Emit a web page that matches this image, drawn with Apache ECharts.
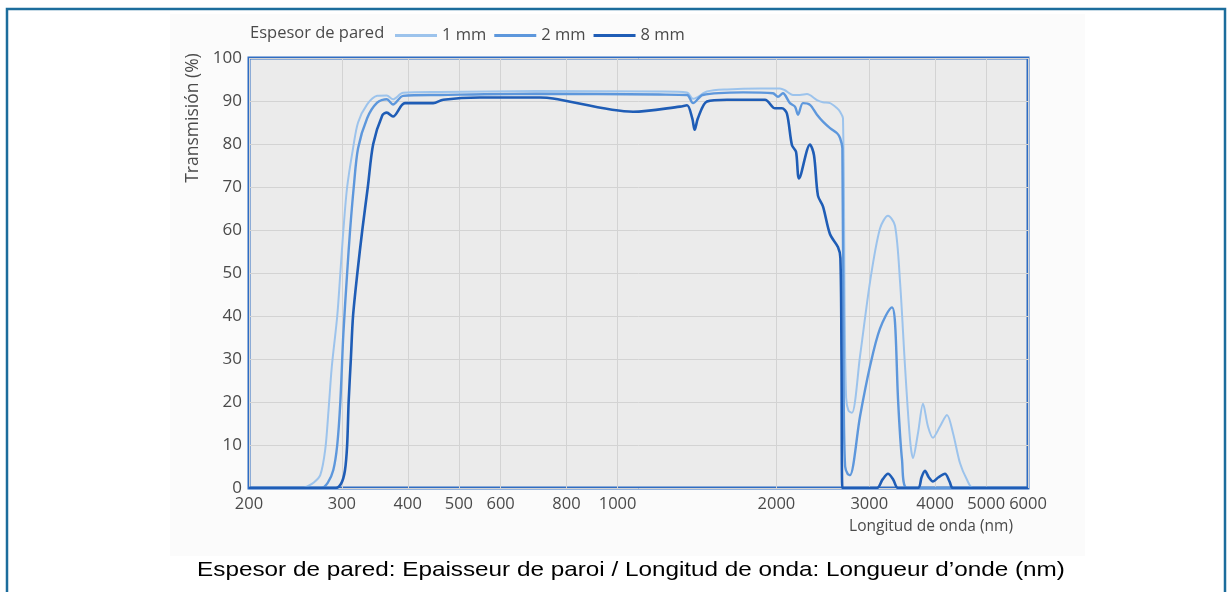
<!DOCTYPE html>
<html>
<head>
<meta charset="utf-8">
<script src="https://cdn.jsdelivr.net/npm/echarts@6/dist/echarts.min.js"></script>
<style>
  html, body { margin: 0; padding: 0; background: #ffffff; }
  #chart { width: 1232px; height: 592px; }
</style>
</head>
<body>
<div id="chart"></div>
<script>
// Transmission spectra of glass for three wall thicknesses (wavelength in nm, transmission in %)
const wl1mm = [200, 253, 258, 265, 273, 279, 283, 287, 294, 298, 302, 307, 315, 322, 335, 350, 365, 375, 392, 460, 700, 1200, 1354, 1390, 1477, 1612, 1862, 2031, 2076, 2150, 2217, 2286, 2388, 2451, 2528, 2607, 2641, 2675, 2695, 2712, 2740, 2782, 2882, 3010, 3143, 3256, 3357, 3432, 3507, 3585, 3631, 3712, 3794, 3877, 3962, 4085, 4212, 4324, 4458, 4597, 4719, 6000];
const t1mm  = [0, 0, 0.4, 1.2, 3, 9, 18, 28, 40, 50, 60, 70, 79, 85, 89.2, 91.2, 91.3, 90.4, 91.9, 92.1, 92.3, 92.2, 92.0, 90.5, 92.2, 92.7, 92.9, 92.9, 92.5, 91.4, 91.4, 91.6, 90.2, 89.7, 89.5, 88.3, 87.5, 86, 40, 21, 18, 17.5, 30.7, 47.9, 60.3, 63.3, 61, 47.9, 28.3, 11.2, 7, 12.8, 19.6, 14.3, 11.7, 14.3, 17, 12.8, 5.8, 1.9, 0, 0];

const wl2mm = [200, 274, 282, 289, 294, 298, 302, 307, 311, 316, 322, 335, 350, 365, 375, 392, 460, 700, 1200, 1354, 1390, 1450, 1729, 1970, 2014, 2058, 2122, 2169, 2198, 2246, 2316, 2388, 2451, 2528, 2607, 2641, 2668, 2684, 2700, 2730, 2758, 2882, 3010, 3143, 3313, 3357, 3402, 3462, 3538, 6000];
const t2mm  = [0, 0, 1.2, 4.2, 10, 20, 36, 50, 60, 70, 79, 86, 89.6, 90.4, 89.2, 91.2, 91.4, 91.7, 91.5, 91.4, 89.5, 91.4, 92.0, 91.8, 91.0, 91.8, 89.5, 88.7, 86.8, 89.5, 89.1, 86.8, 85.2, 83.7, 82.5, 81.4, 79, 20, 5, 3.3, 3, 16.7, 28.3, 37, 42, 38.5, 20.6, 6.5, 0, 0];

const wl8mm = [200, 292, 299, 304, 307, 309, 312, 315, 321, 328, 336, 344, 358, 365, 375, 395, 447, 467, 548, 713, 754, 1070, 1313, 1354, 1385, 1400, 1420, 1477, 1612, 1903, 1988, 2049, 2094, 2141, 2179, 2208, 2316, 2357, 2398, 2451, 2528, 2618, 2645, 2658, 2668, 3102, 3180, 3256, 3330, 3402, 3712, 3770, 3826, 3890, 3962, 4060, 4176, 4260, 4324, 6000];
const t8mm  = [0, 0, 1, 4, 10, 20, 30, 40, 50, 60, 70, 80, 86.7, 87.3, 86.4, 89.5, 89.5, 90.3, 90.8, 90.8, 90.6, 87.5, 88.7, 89.0, 86, 83.3, 86, 89.9, 90.3, 90.3, 88.3, 88.3, 87.1, 79.7, 78.2, 72.0, 79.9, 77.4, 68, 65.5, 59, 56, 53.5, 30, 0, 0, 2, 3.3, 2, 0, 0, 2.5, 4, 2.5, 1.5, 2.5, 3.3, 1.5, 0, 0];

const seriesNames = ['1 mm', '2 mm', '8 mm'];
const seriesColors = ['#9cc3ec', '#5d97dc', '#1f5db6'];
const xTicks = [200, 300, 400, 500, 600, 800, 1000, 2000, 3000, 4000, 5000, 6000];
const yMin = 0, yMax = 100, yStep = 10;

const legendTitle = 'Espesor de pared';
const yTitle = 'Transmisión (%)';
const xTitle = 'Longitud de onda (nm)';
const caption = 'Espesor de pared: Epaisseur de paroi / Longitud de onda: Longueur d\u2019onde (nm)';

const zip = (xs, ys) => xs.map((x, i) => [x, ys[i]]);
const lines = [zip(wl1mm, t1mm), zip(wl2mm, t2mm), zip(wl8mm, t8mm)];
const widths = [2, 2.4, 2.6];

const labelFont = 'Open Sans';
const labelColor = '#4a4a4a';

const chart = echarts.init(document.getElementById('chart'), null, { renderer: 'canvas' });

chart.setOption({
  animation: false,
  backgroundColor: '#ffffff',
  textStyle: { fontFamily: labelFont },
  grid: {
    left: 249, right: 204, top: 58, bottom: 104,
    show: true,
    backgroundColor: '#ebebeb',
    borderColor: '#2f6cc2',
    borderWidth: 3
  },
  legend: {
    data: seriesNames,
    left: 390, top: 22,
    icon: 'rect',
    itemWidth: 42, itemHeight: 3,
    itemGap: 8,
    textStyle: { fontFamily: labelFont, fontSize: 16.5, color: labelColor }
  },
  xAxis: {
    type: 'log',
    logBase: 10,
    min: 200, max: 6000,
    axisLine: { show: false },
    axisTick: { show: false, customValues: xTicks },
    axisLabel: {
      customValues: xTicks,
      fontFamily: labelFont, fontSize: 16.5, color: labelColor,
      margin: 8,
      formatter: v => String(Math.round(v))
    },
    splitLine: { show: true, lineStyle: { color: '#d3d3d3', width: 1 } },
    minorSplitLine: { show: false }
  },
  yAxis: {
    type: 'value',
    min: yMin, max: yMax, interval: yStep,
    axisLine: { show: false },
    axisTick: { show: false },
    axisLabel: {
      fontFamily: labelFont, fontSize: 17, color: labelColor,
      margin: 7
    },
    splitLine: { show: true, lineStyle: { color: '#d3d3d3', width: 1 } }
  },
  graphic: [
    {
      type: 'rect', z: -10, silent: true,
      shape: { x: 170, y: 14, width: 915, height: 542 },
      style: { fill: '#fbfbfb' }
    },
    {
      type: 'rect', z: 100, silent: true,
      shape: { x: 7, y: 9, width: 1218, height: 600 },
      style: { fill: null, stroke: '#1c6d9c', lineWidth: 2.5 }
    },
    {
      type: 'text', silent: true,
      x: 250, y: 33,
      style: { text: legendTitle, font: '16.5px "Open Sans"', fill: labelColor, verticalAlign: 'middle' }
    },
    {
      type: 'text', silent: true,
      x: 193, y: 118, rotation: Math.PI / 2,
      style: { text: yTitle, font: '17.5px "Open Sans"', fill: labelColor, align: 'center', verticalAlign: 'middle' }
    },
    {
      type: 'text', silent: true,
      x: 1013, y: 527,
      style: { text: xTitle, font: '15.5px "Open Sans"', fill: labelColor, align: 'right', verticalAlign: 'middle' }
    },
    {
      type: 'text', silent: true,
      x: 631, y: 570, scaleX: 1.156,
      style: { text: caption, font: '21px "Liberation Sans"', fill: '#000000', align: 'center', verticalAlign: 'middle' }
    }
  ],
  series: seriesNames.map((name, i) => ({
    name,
    type: 'line',
    data: lines[i],
    showSymbol: false,
    smooth: 0.3,
    color: seriesColors[i],
    lineStyle: { width: widths[i], color: seriesColors[i] },
    z: 2 + i
  }))
});
</script>
</body>
</html>
